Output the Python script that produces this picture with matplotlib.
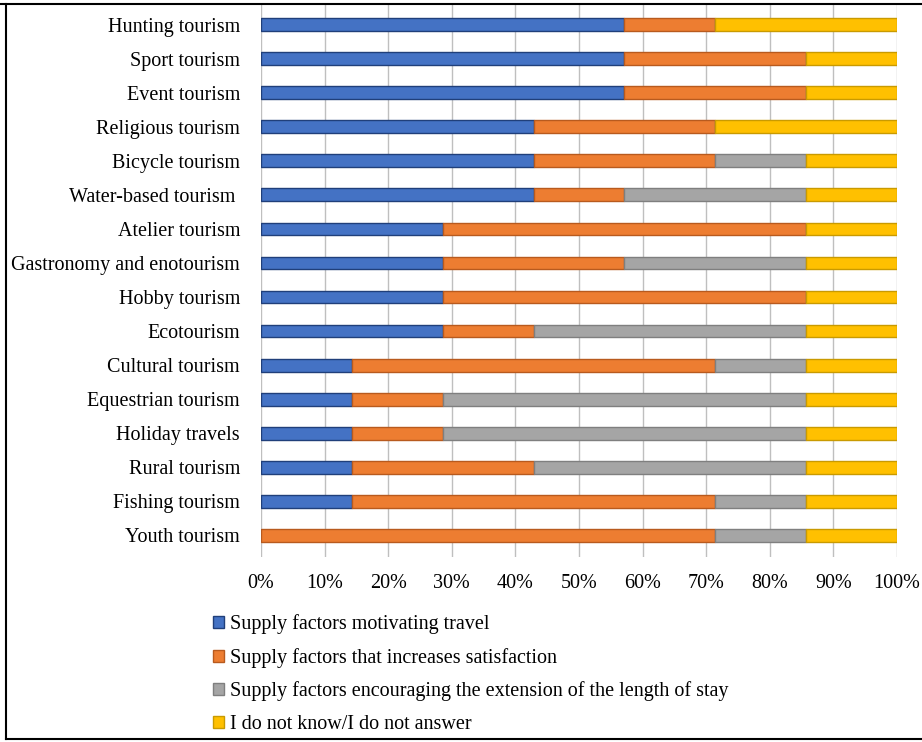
import numpy as np
import matplotlib.pyplot as plt
from matplotlib.lines import Line2D

plt.rcParams['font.family'] = ['Liberation Serif', 'DejaVu Serif']

categories = ['Hunting tourism', 'Sport tourism', 'Event tourism', 'Religious tourism',
              'Bicycle tourism', 'Water-based tourism ', 'Atelier tourism',
              'Gastronomy and enotourism', 'Hobby tourism', 'Ecotourism',
              'Cultural tourism', 'Equestrian tourism', 'Holiday travels',
              'Rural tourism', 'Fishing tourism', 'Youth tourism']

# answers out of 7 respondents
motivating = [4, 4, 4, 3, 3, 3, 2, 2, 2, 2, 1, 1, 1, 1, 1, 0]
satisfaction = [1, 2, 2, 2, 2, 1, 4, 2, 4, 1, 4, 1, 1, 2, 4, 5]
extension = [0, 0, 0, 0, 1, 2, 0, 2, 0, 3, 1, 4, 4, 3, 1, 1]
dont_know = [2, 1, 1, 2, 1, 1, 1, 1, 1, 1, 1, 1, 1, 1, 1, 1]

labels = ['Supply factors motivating travel',
          'Supply factors that increases satisfaction',
          'Supply factors encouraging the extension of the length of stay',
          'I do not know/I do not answer']
colors = ['#4472C4', '#ED7D31', '#A5A5A5', '#FFC000']
edges = ['#203F7A', '#B85A1E', '#7F7F7F', '#C99A00']

series = np.array([motivating, satisfaction, extension, dont_know], dtype=float)
shares = series / series.sum(axis=0)

fs = 14.5
fig = plt.figure(figsize=(9.22, 7.42), dpi=100)
ax = fig.add_axes([0.283, 0.249, 0.690, 0.745])

y = np.arange(len(categories))[::-1]
left = np.zeros(len(categories))
for i in range(4):
    ax.barh(y, shares[i], left=left, height=0.38, color=colors[i],
            edgecolor=edges[i], linewidth=1, label=labels[i], zorder=3)
    left += shares[i]

ax.set_xlim(0, 1)
ax.set_ylim(-0.65, len(categories) - 0.4)
ax.set_xticks(np.linspace(0, 1, 11))
ax.set_xticklabels([f'{int(v)}%' for v in np.arange(0, 101, 10)], fontsize=fs)
ax.set_yticks(y)
ax.set_yticklabels(categories, fontsize=fs)
ax.tick_params(axis='y', length=0, pad=15)
ax.tick_params(axis='x', length=0, pad=12)
ax.grid(axis='x', color='#BFBFBF', linewidth=1, zorder=0)
for s in ax.spines.values():
    s.set_visible(False)

fig.legend(loc='upper left', bbox_to_anchor=(0.222, 0.183), frameon=False,
           fontsize=fs, handlelength=0.55, handleheight=0.55, handletextpad=0.3,
           labelspacing=0.68, borderaxespad=0)

# frame: top, left and bottom only (right edge cut off)
for xs, ys in [([0.0, 1.0], [0.995, 0.995]),
               ([0.006, 0.006], [0.004, 0.995]),
               ([0.006, 1.0], [0.004, 0.004])]:
    fig.add_artist(Line2D(xs, ys, transform=fig.transFigure, color='black', linewidth=1.5))

fig.savefig('out.png', dpi=100)
